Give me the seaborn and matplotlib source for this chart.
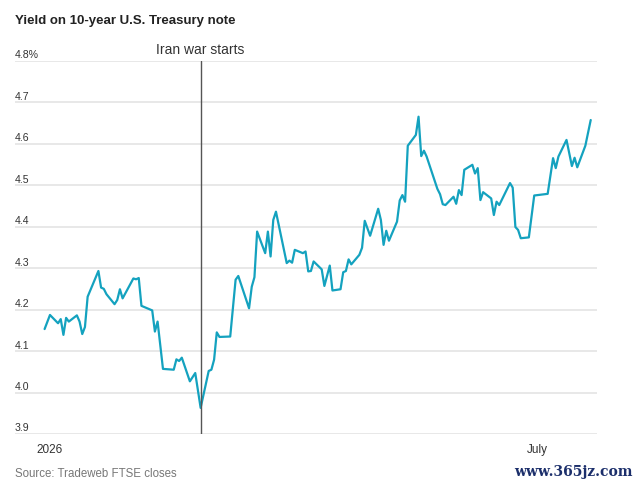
import matplotlib
matplotlib.use("Agg")
import matplotlib.pyplot as plt
import matplotlib.transforms as mtransforms
import pandas as pd
import seaborn as sns

dates = [
    "2025-12-30", "2026-01-01", "2026-01-04", "2026-01-05", "2026-01-06", "2026-01-07",
    "2026-01-08", "2026-01-11", "2026-01-12", "2026-01-13", "2026-01-14", "2026-01-15",
    "2026-01-19", "2026-01-20", "2026-01-21", "2026-01-22", "2026-01-25", "2026-01-26",
    "2026-01-27", "2026-01-28", "2026-02-01", "2026-02-02", "2026-02-03", "2026-02-04",
    "2026-02-08", "2026-02-09", "2026-02-10", "2026-02-12", "2026-02-16", "2026-02-17",
    "2026-02-18", "2026-02-19", "2026-02-22", "2026-02-24", "2026-02-26", "2026-03-01",
    "2026-03-02", "2026-03-03", "2026-03-04", "2026-03-05", "2026-03-09", "2026-03-11",
    "2026-03-12", "2026-03-16", "2026-03-17", "2026-03-18", "2026-03-19", "2026-03-22",
    "2026-03-23", "2026-03-24", "2026-03-25", "2026-03-26", "2026-03-30", "2026-03-31",
    "2026-04-01", "2026-04-02", "2026-04-05", "2026-04-06", "2026-04-07", "2026-04-08",
    "2026-04-09", "2026-04-12", "2026-04-13", "2026-04-15", "2026-04-16", "2026-04-19",
    "2026-04-20", "2026-04-21", "2026-04-22", "2026-04-23", "2026-04-26", "2026-04-27",
    "2026-04-28", "2026-04-30", "2026-05-03", "2026-05-04", "2026-05-05", "2026-05-06",
    "2026-05-07", "2026-05-10", "2026-05-11", "2026-05-12", "2026-05-13", "2026-05-14",
    "2026-05-17", "2026-05-18", "2026-05-19", "2026-05-20", "2026-05-21", "2026-05-25",
    "2026-05-26", "2026-05-27", "2026-05-28", "2026-05-31", "2026-06-01", "2026-06-02",
    "2026-06-03", "2026-06-04", "2026-06-07", "2026-06-08", "2026-06-09", "2026-06-10",
    "2026-06-11", "2026-06-14", "2026-06-15", "2026-06-16", "2026-06-17", "2026-06-21",
    "2026-06-22", "2026-06-23", "2026-06-24", "2026-06-25", "2026-06-28", "2026-06-30",
    "2026-07-05", "2026-07-07", "2026-07-08", "2026-07-09", "2026-07-12", "2026-07-14",
    "2026-07-15", "2026-07-16", "2026-07-19", "2026-07-21",
]
yields = [
    4.153, 4.187, 4.167, 4.177, 4.139, 4.180,
    4.171, 4.186, 4.171, 4.141, 4.158, 4.231,
    4.293, 4.253, 4.250, 4.237, 4.213, 4.223,
    4.249, 4.227, 4.275, 4.273, 4.276, 4.209,
    4.198, 4.147, 4.171, 4.057, 4.055, 4.080,
    4.076, 4.084, 4.027, 4.047, 3.963, 4.052,
    4.055, 4.079, 4.145, 4.134, 4.135, 4.272,
    4.281, 4.203, 4.255, 4.278, 4.388, 4.336,
    4.388, 4.328, 4.416, 4.436, 4.312, 4.318,
    4.313, 4.344, 4.336, 4.340, 4.292, 4.293,
    4.316, 4.297, 4.257, 4.306, 4.246, 4.249,
    4.290, 4.293, 4.321, 4.309, 4.332, 4.349,
    4.414, 4.378, 4.443, 4.416, 4.356, 4.390,
    4.366, 4.412, 4.463, 4.476, 4.460, 4.595,
    4.621, 4.665, 4.570, 4.583, 4.569, 4.491,
    4.478, 4.454, 4.452, 4.472, 4.455, 4.488,
    4.476, 4.537, 4.549, 4.528, 4.541, 4.464,
    4.483, 4.468, 4.428, 4.460, 4.452, 4.505,
    4.494, 4.399, 4.392, 4.372, 4.374, 4.475,
    4.479, 4.565, 4.541, 4.569, 4.609, 4.546,
    4.566, 4.543, 4.595, 4.657,
]
y_ticks = [3.9, 4.0, 4.1, 4.2, 4.3, 4.4, 4.5, 4.6, 4.7, 4.8]
y_labels = ["3.9", "4.0", "4.1", "4.2", "4.3", "4.4", "4.5", "4.6", "4.7", "4.8%"]
month_ticks = ["2026-01-01", "2026-02-01", "2026-03-01", "2026-04-01",
               "2026-05-01", "2026-06-01", "2026-07-01"]
month_labels = ["2026", "", "", "", "", "", "July"]
war_date = "2026-02-26"
war_label = "Iran war starts"

df = pd.DataFrame({"date": pd.to_datetime(dates), "yield": yields})

sns.set_style("white")
plt.rcParams["font.family"] = ["Liberation Sans", "DejaVu Sans"]

fig = plt.figure(figsize=(6.4, 4.87), dpi=100)
ax = fig.add_axes([15 / 640, 1 - 434 / 487, (597 - 15) / 640, (434 - 60.7) / 487])

sns.lineplot(data=df, x="date", y="yield", ax=ax, color="#14a2bf", linewidth=1.6)

ax.set_xlim(pd.Timestamp("2025-12-19"), pd.Timestamp("2026-07-23 08:00"))
ax.set_ylim(3.9, 4.8)
for s in ax.spines.values():
    s.set_visible(False)

# gridlines
ax.set_yticks(y_ticks)
ax.set_yticklabels([])
ax.tick_params(axis="y", length=0)
ax.yaxis.grid(True, color="#e8e8e8", linewidth=1.4)
ax.set_axisbelow(True)

# y labels sit just above the gridlines
off = mtransforms.offset_copy(ax.get_yaxis_transform(), fig=fig, x=0, y=2.5, units="dots")
for v, lab in zip(y_ticks, y_labels):
    ax.text(0, v, lab, transform=off, ha="left", va="baseline", fontsize=7.6, color="#333333")

ax.set_xticks(pd.to_datetime(month_ticks))
ax.set_xticklabels(month_labels)
ax.tick_params(axis="x", length=2.5, width=0.8, color="#333333", labelsize=8.5,
               labelcolor="#333333", pad=5)
ax.set_xlabel("")
ax.set_ylabel("")

# war marker
wd = pd.Timestamp(war_date)
ax.axvline(wd, ymin=0, ymax=1, color="#555555", linewidth=1.0)
war_off = mtransforms.offset_copy(ax.transData, fig=fig, x=0, y=7, units="dots")
ax.text(wd, 4.8, war_label, transform=war_off, ha="center", va="baseline",
        fontsize=10, color="#333333")

fig.text(15 / 640, 1 - 21 / 487, "Yield on 10-year U.S. Treasury note", ha="left", va="center",
         fontsize=9.5, fontweight="bold", color="#222222")
fig.text(15 / 640, 1 - 474 / 487, "Source: Tradeweb FTSE closes", ha="left", va="center",
         fontsize=8.3, color="#777777")
fig.text(633 / 640, 1 - 472 / 487, "www.365jz.com", ha="right", va="center",
         fontsize=10, color="#1c2f6b", family=["DejaVu Serif"], fontweight="bold")

fig.savefig("out.png", dpi=100)
